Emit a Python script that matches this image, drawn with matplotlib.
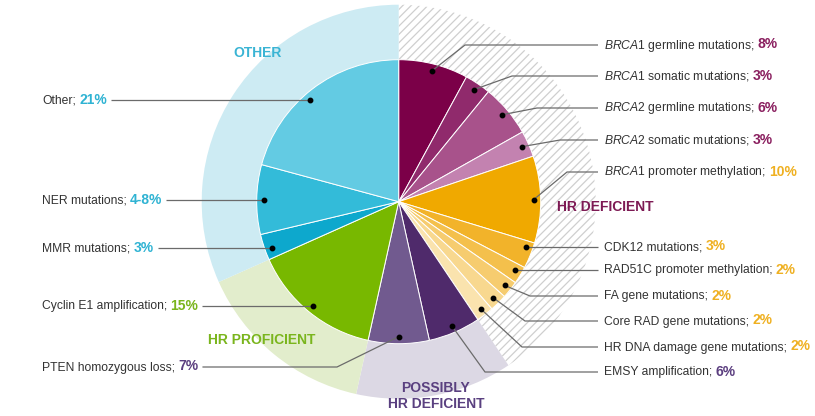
import matplotlib
matplotlib.use("Agg")
import matplotlib.pyplot as plt
import numpy as np

plt.rcParams['font.family'] = ['Liberation Sans', 'DejaVu Sans']
plt.rcParams['mathtext.fontset'] = 'custom'
plt.rcParams['mathtext.rm'] = 'Liberation Sans'
plt.rcParams['mathtext.it'] = 'Liberation Sans:italic'
plt.rcParams['mathtext.bf'] = 'Liberation Sans:bold'
plt.rcParams['hatch.color'] = '#cfcfcf'
plt.rcParams['hatch.linewidth'] = 0.9

# inner pie: one slice per alteration, clockwise from 12 o'clock
names = [r"$\mathit{BRCA}$1 germline mutations;", r"$\mathit{BRCA}$1 somatic mutations;",
         r"$\mathit{BRCA}$2 germline mutations;", r"$\mathit{BRCA}$2 somatic mutations;",
         r"$\mathit{BRCA}$1 promoter methylation;", "CDK12 mutations;",
         "RAD51C promoter methylation;", "FA gene mutations;", "Core RAD gene mutations;",
         "HR DNA damage gene mutations;", "EMSY amplification;", "PTEN homozygous loss;",
         "Cyclin E1 amplification;", "MMR mutations;", "NER mutations;", "Other;"]
values = [8, 3, 6, 3, 10, 3, 2, 2, 2, 2, 6, 7, 15, 3, 8, 21]
pct_labels = ["8%", "3%", "6%", "3%", "10%", "3%", "2%", "2%", "2%", "2%", "6%", "7%",
              "15%", "3%", "4-8%", "21%"]
slice_colors = ["#7b0048", "#902a6c", "#a8528b", "#c382b0", "#f0a900", "#f2b32a",
                "#f4c04c", "#f6cc6f", "#f8d88f", "#fae3ae", "#4f2a6b", "#715a8f",
                "#78b800", "#0da8cd", "#33bbd9", "#63cbe3"]
pct_colors = ["#8a1f5f"] * 4 + ["#efb021"] * 6 + ["#5c3f80"] * 2 + ["#7ab51d"] + ["#2fb3d3"] * 3

# outer ring: the four groups
groups = ["HR DEFICIENT", "POSSIBLY\nHR DEFICIENT", "HR PROFICIENT", "OTHER"]
group_values = [41, 13, 15, 32]
group_colors = ["white", "#dcd8e4", "#e2edcc", "#cdebf3"]
group_text_colors = ["#7d1a54", "#5a4080", "#7ab51d", "#3ab4d4"]

H = 416
cx, cy = 398.7, H - 201.7
r_in, r_out = 142, 197
r_dot = 135

fig = plt.figure(figsize=(8.15, 4.16), dpi=100)
ax = fig.add_axes([0, 0, 1, 1])

outer, _ = ax.pie(group_values, colors=group_colors, startangle=90, counterclock=False,
                  radius=r_out, center=(cx, cy), frame=True,
                  wedgeprops=dict(linewidth=0))
outer[0].set_hatch("////")
outer[0].set_edgecolor("#cfcfcf")
outer[0].set_linewidth(0)

inner, _ = ax.pie(values, colors=slice_colors, startangle=90, counterclock=False,
                  radius=r_in, center=(cx, cy), frame=True,
                  wedgeprops=dict(linewidth=0.7, edgecolor="white"))

ax.set_xlim(0, 815)
ax.set_ylim(0, H)
ax.set_aspect("equal")
ax.axis("off")

# label layout (pixel coords, y down): text anchor and optional elbow of the leader
label_x = [604] * 11 + [42] * 5
label_y = [45, 76, 108, 140, 172, 247, 270, 296, 321, 347, 372, 367, 306, 248, 200, 100]
elbows = [(465, 45), (512, 76), (537, 108), (560, 140), (567, 172), None, None,
          (530, 296), (525, 321), (522, 347), (485, 372), (337, 367), None, None, None, None]

renderer = fig.canvas.get_renderer()

cum = np.cumsum([0] + values)
total = float(sum(values))
for i in range(len(values)):
    ly = H - label_y[i]
    right = label_x[i] > cx
    if elbows[i] is None:
        # straight leader: dot sits inside the slice at the label's height
        off = np.sqrt(r_dot ** 2 - (ly - cy) ** 2)
        dx, dy = (cx + off if right else cx - off), ly
    else:
        mid = 90 - 360 * (cum[i] + cum[i + 1]) / 2 / total
        dx = cx + r_dot * np.cos(np.radians(mid))
        dy = cy + r_dot * np.sin(np.radians(mid))

    t = ax.text(label_x[i], ly - 3.5, names[i], va="baseline", ha="left",
                fontsize=8.7, color="#333333")
    x_end = t.get_window_extent(renderer).x1 + 3.2
    p = ax.text(x_end, ly - 3.5, pct_labels[i], va="baseline", ha="left",
                fontsize=10, fontweight="bold", color=pct_colors[i])
    end = p.get_window_extent(renderer).x1

    if right:
        xs, ys = [dx], [dy]
        if elbows[i] is not None:
            xs.append(elbows[i][0])
            ys.append(H - elbows[i][1])
        xs.append(598)
        ys.append(ly)
    else:
        xs, ys = [end + 4], [ly]
        if elbows[i] is not None:
            xs.append(elbows[i][0])
            ys.append(H - elbows[i][1])
        xs.append(dx)
        ys.append(dy)
    ax.plot(xs, ys, color="#6b6b6b", linewidth=0.9, solid_capstyle="butt")
    ax.plot(dx, dy, "o", color="black", markersize=3.2)

# group names
group_pos = [(605, 207), (436, 396), (262, 340), (258, 53)]
for name, (gx, gy), c in zip(groups, group_pos, group_text_colors):
    ax.text(gx, H - gy, name, ha="center", va="center", fontsize=10, fontweight="bold",
            color=c, linespacing=1.25)

fig.savefig("out.png", dpi=100)
